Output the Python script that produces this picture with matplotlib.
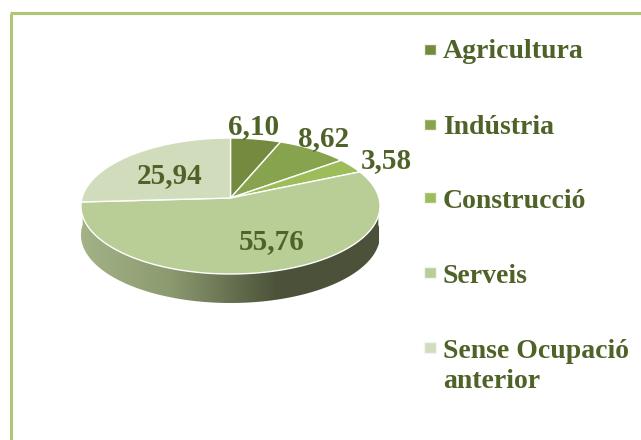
"""Pie chart of unemployment share by sector, drawn in a tilted 3D style."""

import matplotlib

matplotlib.use("Agg")
import matplotlib.pyplot as plt
import numpy as np
from matplotlib.colors import LinearSegmentedColormap
from matplotlib.patches import Polygon, Rectangle

categories = ["Agricultura", "Indústria", "Construcció", "Serveis", "Sense Ocupació\nanterior"]
values = [6.10, 8.62, 3.58, 55.76, 25.94]
value_labels = ["6,10", "8,62", "3,58", "55,76", "25,94"]
colors = ["#738a3f", "#88a34d", "#9dbd5a", "#b9cd96", "#d1dcbd"]

TEXT = "#4f6228"
BORDER = "#aec774"
CX, CY = 230.5, 198.0
DEPTH = 29
label_pos = [(254, 134), (324, 146), (386, 168), (272, 249), (170, 183)]
legend_y = [49.5, 125, 198, 273, 348]
legend_base = [58, 134, 208, 283, 358]


def project(theta):
    # theta is clockwise from 12 o'clock, the disc is tilted with perspective
    u, v = np.sin(theta), np.cos(theta)
    den = 1 + 0.1177 * v
    return CX + 148.5 * u / den, CY - 67.06 * v / den


def main():
    plt.rcParams["font.family"] = ["Liberation Serif", "DejaVu Serif"]
    fig = plt.figure(figsize=(6.41, 4.40), dpi=100)
    ax = fig.add_axes([0, 0, 1, 1])
    ax.set_xlim(0, 641)
    ax.set_ylim(440, 0)
    ax.axis("off")

    # frame, only top and left are visible
    ax.plot([10, 641], [13.5, 13.5], color=BORDER, lw=2.2, solid_capstyle="butt")
    ax.plot([10.5, 10.5], [14, 440], color=BORDER, lw=2.2, solid_capstyle="butt")

    # side wall with horizontal gradient
    t = np.linspace(np.radians(88), np.radians(272), 300)
    x, y = project(t)
    wall = np.vstack([np.column_stack([x, y]), np.column_stack([x[::-1], y[::-1] + DEPTH])])
    clip = Polygon(wall, closed=True, transform=ax.transData, fc="none", ec="none")
    ax.add_patch(clip)
    cmap = LinearSegmentedColormap.from_list(
        "wall", [(0, "#a4b287"), (0.3, "#8c9a70"), (0.66, "#4b5239"), (1, "#4b5239")]
    )
    im = ax.imshow(
        np.linspace(0, 1, 256)[None, :],
        cmap=cmap,
        extent=[80, 379, 310, 195],
        aspect="auto",
        zorder=1,
    )
    ax.set_xlim(0, 641)
    ax.set_ylim(440, 0)
    im.set_clip_path(clip)

    # top face
    edges = np.concatenate([[0], np.cumsum(values)]) / np.sum(values) * 2 * np.pi
    for i, color in enumerate(colors):
        th = np.linspace(edges[i], edges[i + 1], 120)
        px, py = project(th)
        ax.fill(
            np.r_[CX, px],
            np.r_[CY, py],
            facecolor=color,
            edgecolor="white",
            linewidth=1.0,
            joinstyle="round",
            zorder=2,
        )
        lx, ly = label_pos[i]
        ax.text(lx, ly, value_labels[i], color=TEXT, fontsize=21, fontweight="bold",
                ha="center", va="baseline", zorder=3)

    # legend
    for i, name in enumerate(categories):
        ax.add_patch(Rectangle((424, legend_y[i] - 5.5), 12, 11, facecolor=colors[i],
                               edgecolor="#f4f5f0", linewidth=1))
        for j, line in enumerate(name.split("\n")):
            ax.text(443, legend_base[i] + 30 * j, line, color=TEXT, fontsize=20,
                    fontweight="bold", ha="left", va="baseline")

    fig.savefig("out.png", dpi=100, facecolor="white")
    plt.close(fig)


if __name__ == "__main__":
    main()
